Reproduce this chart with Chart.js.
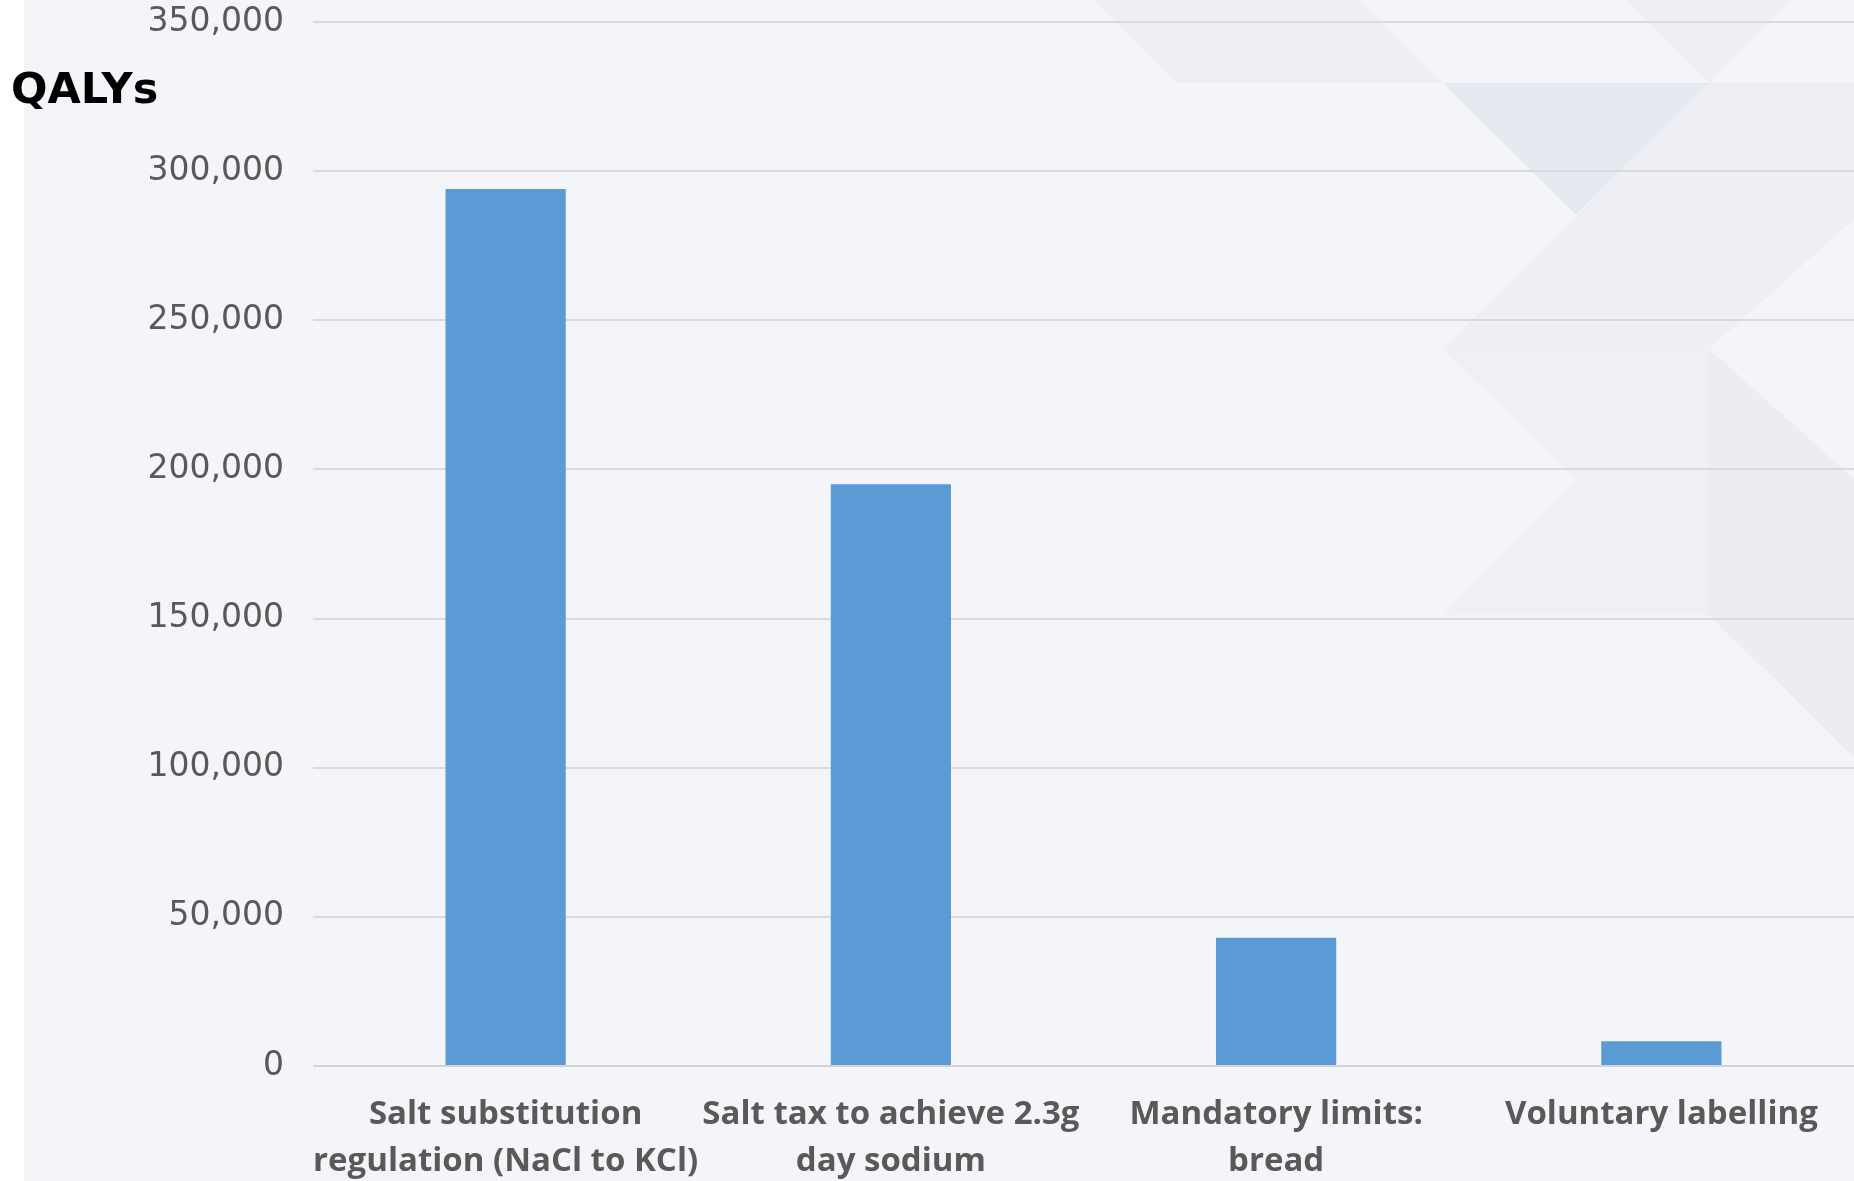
<!DOCTYPE html>
<html>
<head>
<meta charset="utf-8">
<script src="https://cdn.jsdelivr.net/npm/chart.js@4.4.1/dist/chart.umd.min.js"></script>
<style>
  html, body { margin: 0; padding: 0; background: #ffffff; overflow: hidden; }
  #wrap { position: relative; width: 1854px; height: 1181px; }
  #qalys {
    position: absolute; left: 11px; top: 67px;
    font-family: "DejaVu Sans", sans-serif; font-weight: bold; font-size: 43px;
    line-height: 42px; color: #000000;
  }
</style>
</head>
<body>
<div id="wrap">
  <canvas id="qalyChart"></canvas>
  <div id="qalys">QALYs</div>
</div>
<script>
  // data
  const categories = [
    ["Salt substitution", "regulation (NaCl to KCl)"],
    ["Salt tax to achieve 2.3g", "day sodium"],
    ["Mandatory limits:", "bread"],
    ["Voluntary labelling"]
  ];
  const qalyValues = [294000, 195000, 43000, 8300];
  const yMin = 0;
  const yMax = 350000;
  const yStep = 50000;

  // faint triangles behind the plot, like the slide background
  const backdrop = {
    id: "backdrop",
    beforeDraw(chart) {
      const ctx = chart.ctx;
      ctx.save();
      ctx.fillStyle = "#ffffff";
      ctx.fillRect(0, 0, chart.width, chart.height);
      ctx.fillStyle = "#f4f5f9";
      ctx.fillRect(24, 0, chart.width - 24, chart.height);

      const shapes = [
        ["#eeeff4", [[1094, 0], [1360, 0], [1443, 83], [1177, 83]]],
        ["#eeeff4", [[1626, 0], [1791, 0], [1709, 83]]],
        ["#e7e9f0", [[1443, 83], [1709, 83], [1576, 215]]],
        ["#eeeff4", [[1709, 83], [1854, 83], [1854, 219], [1709, 349], [1443, 349]]],
        ["#eff0f5", [[1443, 349], [1709, 349], [1709, 615], [1443, 615], [1576, 479]]],
        ["#ecedf2", [[1709, 349], [1854, 479], [1854, 757], [1709, 615]]]
      ];
      shapes.forEach(([color, pts]) => {
        ctx.fillStyle = color;
        ctx.beginPath();
        pts.forEach(([x, y], i) => (i ? ctx.lineTo(x, y) : ctx.moveTo(x, y)));
        ctx.closePath();
        ctx.fill();
      });
      ctx.restore();
    }
  };

  const canvas = document.getElementById("qalyChart");
  canvas.width = 1854;
  canvas.height = 1181;

  new Chart(canvas.getContext("2d"), {
    type: "bar",
    data: {
      labels: categories,
      datasets: [{
        label: "QALYs",
        data: qalyValues,
        backgroundColor: "#5b9bd5",
        borderWidth: 0,
        categoryPercentage: 1,
        barPercentage: 0.312
      }]
    },
    options: {
      responsive: false,
      animation: false,
      layout: { padding: { top: 22, left: 0, right: 0, bottom: 0 } },
      plugins: {
        legend: { display: false },
        tooltip: { enabled: false }
      },
      scales: {
        x: {
          grid: { display: false, drawTicks: false },
          border: { display: false },
          ticks: {
            padding: 25,
            maxRotation: 0,
            autoSkip: false,
            color: "#595959",
            font: { family: "'Liberation Sans Narrow', 'Open Sans', sans-serif", size: 33, weight: "bold", lineHeight: 1.43 }
          },
          afterFit(scale) {
            scale.height = 115;
            scale.paddingLeft = 0;
            scale.paddingRight = 0;
          }
        },
        y: {
          min: yMin,
          max: yMax,
          grid: {
            drawTicks: false,
            lineWidth: 2,
            color: ctx => (ctx.tick && ctx.tick.value === 0 ? "#d2d3d6" : "#d9dadd")
          },
          border: { display: false },
          ticks: {
            stepSize: yStep,
            padding: 29,
            color: "#595959",
            font: { family: "'DejaVu Sans', sans-serif", size: 33 },
            callback: v => v.toLocaleString("en-US")
          },
          afterFit(scale) {
            scale.width = 313;
            scale.paddingTop = 0;
            scale.paddingBottom = 0;
          }
        }
      }
    },
    plugins: [backdrop]
  });
</script>
</body>
</html>
